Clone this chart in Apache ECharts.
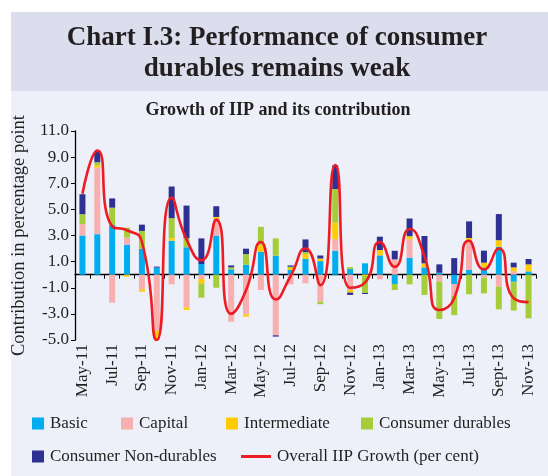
<!DOCTYPE html>
<html>
<head>
<meta charset="utf-8">
<script src="https://cdn.jsdelivr.net/npm/echarts@6/dist/echarts.min.js"></script>
<style>
  html, body { margin: 0; padding: 0; background: #fff; }
  #chart { width: 548px; height: 476px; }
</style>
</head>
<body>
<div id="chart"></div>
<script>
var months = ['May-11', 'Jun-11', 'Jul-11', 'Aug-11', 'Sep-11', 'Oct-11', 'Nov-11', 'Dec-11',
  'Jan-12', 'Feb-12', 'Mar-12', 'Apr-12', 'May-12', 'Jun-12', 'Jul-12', 'Aug-12',
  'Sep-12', 'Oct-12', 'Nov-12', 'Dec-12', 'Jan-13', 'Feb-13', 'Mar-13', 'Apr-13',
  'May-13', 'Jun-13', 'Jul-13', 'Aug-13', 'Sept-13', 'Oct-13', 'Nov-13'];

var basic = [3.0, 3.1, 3.8, 2.3, 2.0, 0.54, 2.6, 2.1, 0.82, 3.0, 0.41, 0.76, 1.76, 1.45, 0.36, 1.2,
  1.04, 1.83, 0.43, 0.87, 1.48, -0.71, 1.3, 0.56, 0.15, -0.71, 0.36, 0.56, 2.14, -0.54, 0.25];
var capital = [0.87, 5.1, -2.14, 0.54, -1.12, -4.3, -0.74, -2.5, -0.33, 1.27, -3.6, -3.03, -1.17, -4.64, -0.74, -0.66,
  -2.06, 0.89, -1.17, 0, -0.36, 1.17, 1.4, 0, -0.54, -0.89, 2.09, -0.23, -0.92, 0.25, 0];
var intermediate = [0, 0.18, 0, -0.15, -0.18, -0.82, 0.2, -0.2, -0.33, 0.15, 0, -0.18, 0.5, 0, 0.15, 0.38,
  0.2, 1.27, -0.2, -0.1, 0.41, 0, 0.25, 0.31, 0, 0, 0.36, 0.36, 0.5, 0.31, 0.54];
var consDurables = [0.76, 0.23, 1.33, 0.76, 1.35, 0, 1.53, 0.69, -1.1, -1.0, 0.15, 0.82, 1.4, 1.33, 0.1, 0.15,
  -0.2, 2.57, 0.15, -1.3, 0, -0.46, -0.74, -1.55, -2.85, -1.5, -1.5, -1.2, -1.73, -2.2, -3.34];
var consNonDurables = [1.53, 0.87, 0.71, 0, 0.48, 0.08, 2.42, 2.5, 1.96, 0.82, 0.15, 0.41, 0, -0.1, 0.1, 0.97,
  0.23, 1.81, -0.18, -0.08, 1.02, 0.66, 1.35, 2.09, 0.64, 1.27, 1.27, 0.92, 2.0, 0.36, 0.41];
var iipGrowth = [6.2, 9.5, 3.7, 3.4, 2.5, -5.0, 5.9, 2.7, 1.1, 4.2, -3.0, -1.2, 2.5, -1.9, -0.1, 2.0,
  -0.8, 8.4, -1.0, -0.6, 2.5, 0.6, 3.5, 1.4, -2.7, -1.8, 2.6, 0.4, 2.0, -1.8, -2.1];

var serif = '"Liberation Serif", "Times New Roman", serif';
var ink = '#231F20';

var chart = echarts.init(document.getElementById('chart'));

function barSeries(name, data, color) {
  return {
    name: name,
    type: 'bar',
    stack: 'total',
    barWidth: 6,
    data: data,
    itemStyle: { color: color },
    emphasis: { disabled: true }
  };
}

function oneLegend(name, left, top, extra) {
  var lg = {
    data: [name],
    left: left,
    top: top,
    padding: 0,
    itemWidth: 12,
    itemHeight: 12,
    icon: 'rect',
    selectedMode: false,
    textStyle: { fontFamily: serif, fontSize: 17, color: ink, padding: [0, 0, 0, 1] }
  };
  return Object.assign(lg, extra || {});
}

chart.setOption({
  backgroundColor: '#ffffff',
  animation: false,
  graphic: [
    { type: 'rect', left: 11, top: 12, shape: { width: 537, height: 464 }, style: { fill: '#EDF0F8' }, z: -10 },
    { type: 'rect', left: 11, top: 12, shape: { width: 537, height: 79 }, style: { fill: '#DCDEEE' }, z: -9 },
    { type: 'text', x: 277, y: 38, style: { text: 'Chart I.3: Performance of consumer', font: 'bold 27px ' + serif, fill: ink, textAlign: 'center', textVerticalAlign: 'middle' } },
    { type: 'text', x: 277, y: 69, style: { text: 'durables remains weak', font: 'bold 27px ' + serif, fill: ink, textAlign: 'center', textVerticalAlign: 'middle' } },
    { type: 'text', x: 278, y: 110, style: { text: 'Growth of IIP and its contribution', font: 'bold 18px ' + serif, fill: ink, textAlign: 'center', textVerticalAlign: 'middle' } }
  ],
  legend: [
    oneLegend('Basic', 32, 415),
    oneLegend('Capital', 121, 415),
    oneLegend('Intermediate', 226, 415),
    oneLegend('Consumer durables', 361, 415),
    oneLegend('Consumer Non-durables', 32, 448),
    oneLegend('Overall IIP Growth (per cent)', 241, 448, { itemWidth: 30, itemHeight: 3 })
  ],
  grid: { left: 75, right: 12, top: 131, bottom: 136, containLabel: false },
  xAxis: [
    {
      type: 'category',
      data: months,
      position: 'bottom',
      boundaryGap: true,
      axisLine: { onZero: true, lineStyle: { color: '#000', width: 1.3 } },
      axisTick: { show: true, interval: 0, length: 4, lineStyle: { color: '#000' } },
      axisLabel: { show: false },
      splitLine: { show: false }
    },
    {
      type: 'category',
      data: months,
      position: 'bottom',
      boundaryGap: true,
      axisLine: { show: false, onZero: false },
      axisTick: { show: false },
      axisLabel: { interval: 1, rotate: 90, margin: 4, fontFamily: serif, fontSize: 17, color: ink },
      splitLine: { show: false }
    }
  ],
  yAxis: {
    type: 'value',
    min: -5,
    max: 11,
    interval: 2,
    name: 'Contribution in percentage point',
    nameLocation: 'middle',
    nameGap: 36,
    nameTextStyle: { fontFamily: serif, fontSize: 18.5, color: ink },
    axisLine: { show: true, lineStyle: { color: '#000', width: 1.3 } },
    axisTick: { show: true, length: 4, lineStyle: { color: '#000' } },
    axisLabel: { fontFamily: serif, fontSize: 17, color: ink, margin: 6, formatter: function (v) { return v.toFixed(1); } },
    splitLine: { show: false }
  },
  series: [
    barSeries('Basic', basic, '#00AEEF'),
    barSeries('Capital', capital, '#F7AFAF'),
    barSeries('Intermediate', intermediate, '#FFCB05'),
    barSeries('Consumer durables', consDurables, '#A5CD39'),
    barSeries('Consumer Non-durables', consNonDurables, '#2E3192'),
    {
      name: 'Overall IIP Growth (per cent)',
      type: 'line',
      data: iipGrowth,
      smooth: 0.6,
      symbol: 'none',
      z: 10,
      lineStyle: { color: '#ED1C24', width: 2.6 },
      itemStyle: { color: '#ED1C24' },
      emphasis: { disabled: true }
    }
  ]
});
</script>
</body>
</html>
